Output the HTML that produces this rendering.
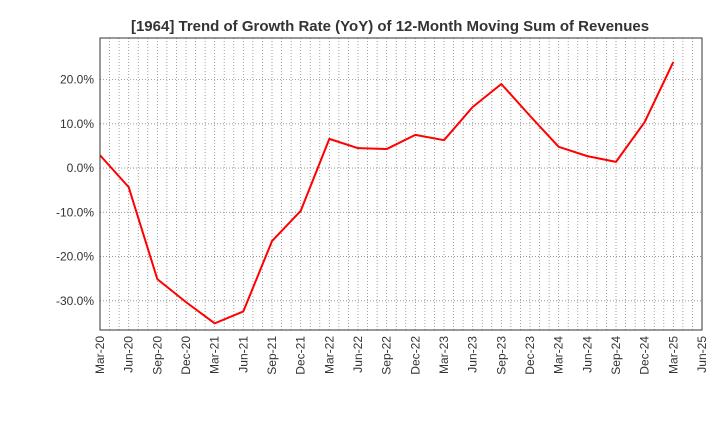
<!DOCTYPE html>
<html><head><meta charset="utf-8"><style>
body{margin:0;background:#fff;font-family:"Liberation Sans",sans-serif}
svg text{font-family:"Liberation Sans",sans-serif}
</style></head><body>
<svg id="chart" width="720" height="440" xmlns="http://www.w3.org/2000/svg">
<text x="390" y="31" text-anchor="middle" font-size="15" font-weight="bold" fill="#333">[1964]  Trend of Growth Rate (YoY) of 12-Month Moving Sum of Revenues</text>
<g id="grid"></g>
<g id="yaxis"></g>
<g id="xaxis"></g>
<g id="series"></g>
<rect x="100" y="38" width="602" height="292" fill="none" stroke="#333" stroke-width="1"/>
</svg>
<script>
const categories=["Mar-20","Jun-20","Sep-20","Dec-20","Mar-21","Jun-21","Sep-21","Dec-21","Mar-22","Jun-22","Sep-22","Dec-22","Mar-23","Jun-23","Sep-23","Dec-23","Mar-24","Jun-24","Sep-24","Dec-24","Mar-25"];
const tickLabels=["Mar-20","Jun-20","Sep-20","Dec-20","Mar-21","Jun-21","Sep-21","Dec-21","Mar-22","Jun-22","Sep-22","Dec-22","Mar-23","Jun-23","Sep-23","Dec-23","Mar-24","Jun-24","Sep-24","Dec-24","Mar-25","Jun-25"];
const growthValues=[2.9,-4.3,-25.1,-30.3,-35.1,-32.4,-16.5,-9.7,6.6,4.5,4.3,7.5,6.3,13.8,19.0,11.8,4.8,2.7,1.4,10.4,24.0];
const yTicks=[-30,-20,-10,0,10,20];
const NS="http://www.w3.org/2000/svg";
const L=100,R=702,T=38,B=330,yMin=-36.6,yMax=29.4;
const qW=(R-L)/(tickLabels.length-1);
function xq(i){return L+i*qW;}
function y(v){return B-(v-yMin)/(yMax-yMin)*(B-T);}
function mk(tag,attrs,parent){const e=document.createElementNS(NS,tag);for(const k in attrs)e.setAttribute(k,attrs[k]);parent.appendChild(e);return e;}
const grid=document.getElementById('grid'),ya=document.getElementById('yaxis'),xa=document.getElementById('xaxis'),se=document.getElementById('series');
for(let m=1;m<(tickLabels.length-1)*3;m++){
  const x=L+m*qW/3;
  const g=mk('line',{x1:x,x2:x,y1:T,y2:B,stroke:'#888','stroke-width':0.8,'stroke-dasharray':'1,2'},grid);
  
  
}
yTicks.forEach(v=>{
  const yy=y(v);
  const g=mk('line',{x1:L,x2:R,y1:yy,y2:yy,stroke:'#888','stroke-width':0.8,'stroke-dasharray':'1,2'},grid);
  
  
  const t=mk('text',{x:L-6,y:yy+4,'text-anchor':'end','font-size':12,fill:'#333'},ya);
  t.textContent=v.toFixed(1)+'%';
  
  
});
tickLabels.forEach((lab,i)=>{
  const x=xq(i);
  const t=mk('text',{x:x+4,y:B+6,'text-anchor':'end','font-size':12,fill:'#333',transform:'rotate(-90 '+(x+4)+' '+(B+6)+')'},xa);
  t.textContent=lab;
  
  
});
const pts=growthValues.map((v,i)=>xq(i)+','+y(v)).join(' ');
const pl=mk('polyline',{points:pts,fill:'none',stroke:'#f00','stroke-width':2,'stroke-linejoin':'round'},se);


</script>
</body></html>
